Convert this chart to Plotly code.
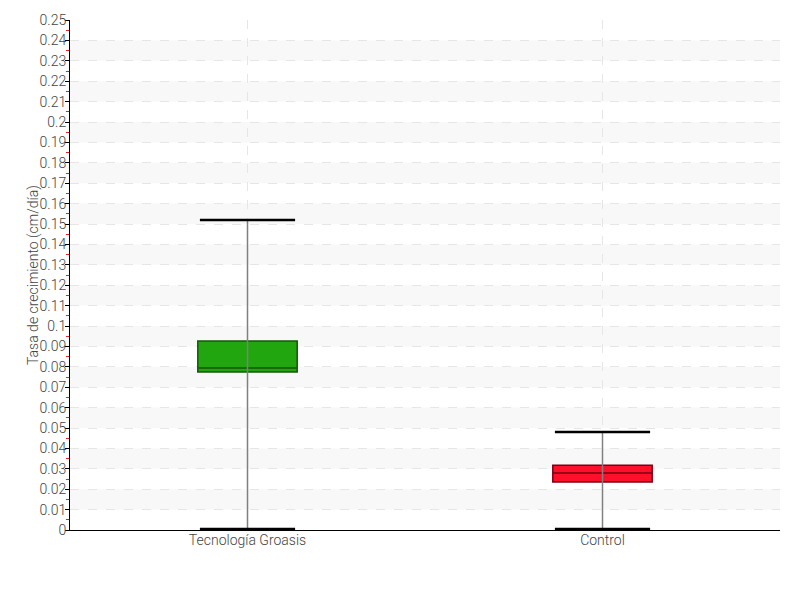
import plotly.graph_objects as go

categories = ["Tecnología Groasis", "Control"]
lower_whisker = [0.0005, 0.0005]
q1 = [0.0775, 0.0235]
median = [0.0794, 0.028]
q3 = [0.0926, 0.0318]
upper_whisker = [0.152, 0.048]
fill_colors = ["#21a60f", "#ff0f28"]
edge_colors = ["#17560b", "#7a0010"]
y_title = "Tasa de crecimiento (cm/día)"

y_ticks = [round(i * 0.01, 2) for i in range(26)]
y_tick_text = ["0" if v == 0 else ("%g" % v) for v in y_ticks]

FONT = "Roboto, Liberation Sans, sans-serif"

fig = go.Figure()

# whiskers (gray), drawn first so boxes cover them
wx, wy = [], []
for c, lo, hi in zip(categories, lower_whisker, upper_whisker):
    wx += [c, c, None]
    wy += [lo, hi, None]
fig.add_trace(go.Scatter(x=wx, y=wy, mode="lines",
                         line=dict(color="#808080", width=1.5),
                         hoverinfo="skip", showlegend=False))

for i, c in enumerate(categories):
    fig.add_trace(go.Box(
        x=[c], q1=[q1[i]], median=[median[i]], q3=[q3[i]],
        lowerfence=[q1[i]], upperfence=[q3[i]],
        fillcolor=fill_colors[i], line=dict(color=edge_colors[i], width=1.5),
        whiskerwidth=0, width=0.28, showlegend=False, boxpoints=False))

# whisker caps
fig.add_trace(go.Scatter(
    x=categories + categories, y=upper_whisker + lower_whisker, mode="markers",
    marker=dict(symbol="line-ew", size=68, line=dict(color="#000000", width=2.5)),
    hoverinfo="skip", showlegend=False))

# alternating bands
shapes = []
for k in range(len(y_ticks) - 1):
    if k % 2 == 1:
        shapes.append(dict(type="rect", xref="paper", yref="y", x0=0, x1=1,
                           y0=y_ticks[k], y1=y_ticks[k + 1],
                           fillcolor="#f8f8f8", line=dict(width=0), layer="below"))

fig.update_layout(
    width=800, height=600,
    margin=dict(l=62, r=28, t=12, b=78),
    paper_bgcolor="white", plot_bgcolor="white",
    font=dict(family=FONT, size=14, color="#444444", weight=300),
    shapes=shapes,
    annotations=[dict(text=y_title, xref="paper", yref="paper", x=0, y=0.5,
                      xanchor="center", yanchor="middle", xshift=-37,
                      textangle=-90, showarrow=False,
                      font=dict(size=14, color="#444444", weight=300))],
    xaxis=dict(type="category", categoryorder="array", categoryarray=categories,
               range=[-0.5, 1.5], automargin=False,
               showline=True, linecolor="#000000", linewidth=1,
               showgrid=True, gridcolor="#e6e6e6", griddash="dash", gridwidth=1,
               ticks="", ticklabelstandoff=-3,
               tickfont=dict(size=14, color="#444444", weight=300),
               zeroline=False),
    yaxis=dict(range=[0, 0.25], tickvals=y_ticks, ticktext=y_tick_text,
               automargin=False,
               showline=True, linecolor="#000000", linewidth=1,
               ticks="outside", ticklen=4, tickcolor="#000000", tickwidth=1,
               ticklabelstandoff=-4,
               showgrid=True, gridcolor="#e6e6e6", griddash="dash", gridwidth=1,
               zeroline=False,
               minor=dict(dtick=0.01, tick0=0.005, ticks="outside", ticklen=3,
                          tickcolor="#e0202a", showgrid=False),
               tickfont=dict(size=14, color="#444444", weight=300)),
)

fig.write_html("out.html")
